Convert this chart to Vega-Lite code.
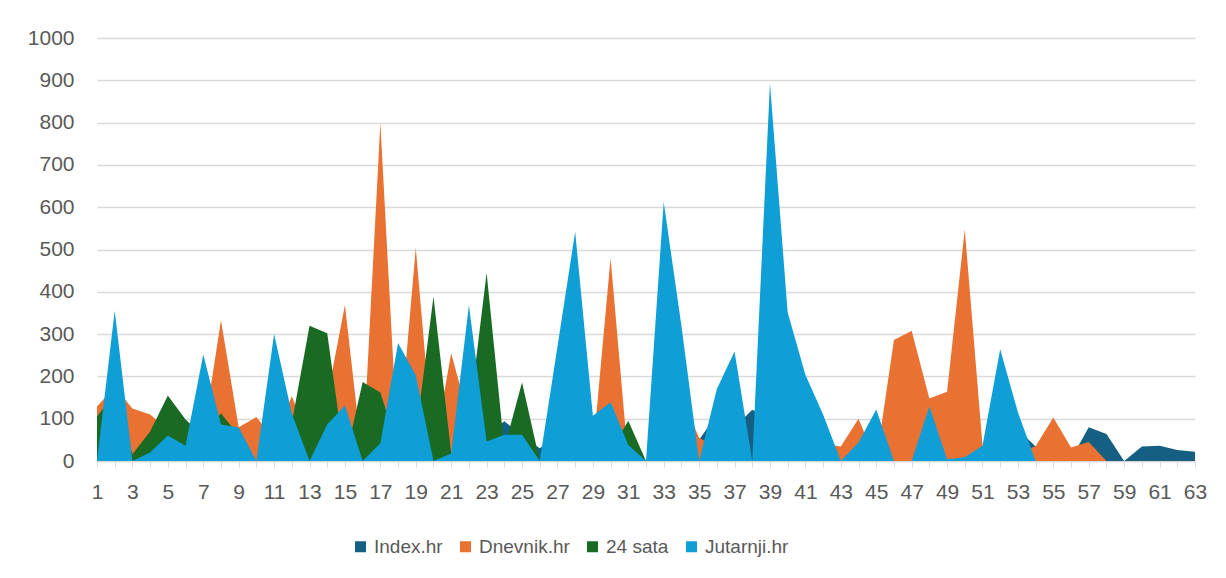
{
  "$schema": "https://vega.github.io/schema/vega-lite/v6.json",
  "width": 1098,
  "height": 423,
  "autosize": "none",
  "padding": {"left": 97, "top": 38, "right": 31, "bottom": 117},
  "background": "white",
  "config": {
    "view": {"stroke": null},
    "font": "Liberation Sans"
  },
  "data": {
    "values": [
      {"n":1,"Index":40,"Dnevnik":129,"Sata":105,"Jutarnji":0},
      {"n":2,"Index":60,"Dnevnik":175,"Sata":160,"Jutarnji":355},
      {"n":3,"Index":50,"Dnevnik":124,"Sata":16,"Jutarnji":0},
      {"n":4,"Index":40,"Dnevnik":110,"Sata":70,"Jutarnji":20},
      {"n":5,"Index":60,"Dnevnik":75,"Sata":155,"Jutarnji":60},
      {"n":6,"Index":50,"Dnevnik":40,"Sata":98,"Jutarnji":36},
      {"n":7,"Index":70,"Dnevnik":60,"Sata":60,"Jutarnji":252},
      {"n":8,"Index":60,"Dnevnik":333,"Sata":113,"Jutarnji":86},
      {"n":9,"Index":50,"Dnevnik":80,"Sata":60,"Jutarnji":79},
      {"n":10,"Index":40,"Dnevnik":104,"Sata":0,"Jutarnji":0},
      {"n":11,"Index":60,"Dnevnik":50,"Sata":40,"Jutarnji":300},
      {"n":12,"Index":60,"Dnevnik":153,"Sata":90,"Jutarnji":112},
      {"n":13,"Index":50,"Dnevnik":50,"Sata":320,"Jutarnji":0},
      {"n":14,"Index":70,"Dnevnik":150,"Sata":302,"Jutarnji":86},
      {"n":15,"Index":60,"Dnevnik":369,"Sata":0,"Jutarnji":131},
      {"n":16,"Index":50,"Dnevnik":0,"Sata":187,"Jutarnji":0},
      {"n":17,"Index":40,"Dnevnik":799,"Sata":162,"Jutarnji":42},
      {"n":18,"Index":80,"Dnevnik":20,"Sata":30,"Jutarnji":279},
      {"n":19,"Index":70,"Dnevnik":504,"Sata":60,"Jutarnji":203},
      {"n":20,"Index":30,"Dnevnik":20,"Sata":389,"Jutarnji":0},
      {"n":21,"Index":10,"Dnevnik":255,"Sata":18,"Jutarnji":18},
      {"n":22,"Index":60,"Dnevnik":100,"Sata":100,"Jutarnji":368},
      {"n":23,"Index":60,"Dnevnik":60,"Sata":445,"Jutarnji":46},
      {"n":24,"Index":94,"Dnevnik":40,"Sata":30,"Jutarnji":62},
      {"n":25,"Index":60,"Dnevnik":30,"Sata":186,"Jutarnji":62},
      {"n":26,"Index":30,"Dnevnik":0,"Sata":0,"Jutarnji":0},
      {"n":27,"Index":60,"Dnevnik":30,"Sata":10,"Jutarnji":270},
      {"n":28,"Index":80,"Dnevnik":40,"Sata":20,"Jutarnji":542},
      {"n":29,"Index":60,"Dnevnik":20,"Sata":20,"Jutarnji":107},
      {"n":30,"Index":60,"Dnevnik":480,"Sata":25,"Jutarnji":139},
      {"n":31,"Index":20,"Dnevnik":0,"Sata":95,"Jutarnji":38},
      {"n":32,"Index":0,"Dnevnik":0,"Sata":0,"Jutarnji":0},
      {"n":33,"Index":40,"Dnevnik":50,"Sata":0,"Jutarnji":612},
      {"n":34,"Index":60,"Dnevnik":150,"Sata":0,"Jutarnji":320},
      {"n":35,"Index":50,"Dnevnik":55,"Sata":0,"Jutarnji":0},
      {"n":36,"Index":110,"Dnevnik":30,"Sata":0,"Jutarnji":170},
      {"n":37,"Index":80,"Dnevnik":20,"Sata":0,"Jutarnji":259},
      {"n":38,"Index":121,"Dnevnik":0,"Sata":0,"Jutarnji":0},
      {"n":39,"Index":100,"Dnevnik":20,"Sata":0,"Jutarnji":893},
      {"n":40,"Index":60,"Dnevnik":20,"Sata":0,"Jutarnji":351},
      {"n":41,"Index":50,"Dnevnik":20,"Sata":0,"Jutarnji":204},
      {"n":42,"Index":40,"Dnevnik":40,"Sata":0,"Jutarnji":110},
      {"n":43,"Index":10,"Dnevnik":34,"Sata":0,"Jutarnji":0},
      {"n":44,"Index":30,"Dnevnik":100,"Sata":0,"Jutarnji":44},
      {"n":45,"Index":40,"Dnevnik":0,"Sata":0,"Jutarnji":122},
      {"n":46,"Index":20,"Dnevnik":286,"Sata":0,"Jutarnji":0},
      {"n":47,"Index":30,"Dnevnik":308,"Sata":0,"Jutarnji":0},
      {"n":48,"Index":40,"Dnevnik":148,"Sata":0,"Jutarnji":129},
      {"n":49,"Index":50,"Dnevnik":164,"Sata":0,"Jutarnji":4},
      {"n":50,"Index":40,"Dnevnik":547,"Sata":0,"Jutarnji":9},
      {"n":51,"Index":20,"Dnevnik":38,"Sata":0,"Jutarnji":36},
      {"n":52,"Index":90,"Dnevnik":20,"Sata":0,"Jutarnji":264},
      {"n":53,"Index":75,"Dnevnik":20,"Sata":0,"Jutarnji":115},
      {"n":54,"Index":34,"Dnevnik":35,"Sata":0,"Jutarnji":0},
      {"n":55,"Index":30,"Dnevnik":103,"Sata":0,"Jutarnji":0},
      {"n":56,"Index":5,"Dnevnik":32,"Sata":0,"Jutarnji":0},
      {"n":57,"Index":80,"Dnevnik":45,"Sata":0,"Jutarnji":0},
      {"n":58,"Index":64,"Dnevnik":0,"Sata":0,"Jutarnji":0},
      {"n":59,"Index":0,"Dnevnik":0,"Sata":0,"Jutarnji":0},
      {"n":60,"Index":34,"Dnevnik":0,"Sata":0,"Jutarnji":0},
      {"n":61,"Index":36,"Dnevnik":0,"Sata":0,"Jutarnji":0},
      {"n":62,"Index":26,"Dnevnik":0,"Sata":0,"Jutarnji":0},
      {"n":63,"Index":22,"Dnevnik":0,"Sata":0,"Jutarnji":0}
    ]
  },
  "encoding": {
    "x": {
      "field": "n",
      "type": "quantitative",
      "scale": {"domain": [1, 63], "nice": false, "zero": false},
      "axis": {
        "title": null,
        "values": [1,2,3,4,5,6,7,8,9,10,11,12,13,14,15,16,17,18,19,20,21,22,23,24,25,26,27,28,29,30,31,32,33,34,35,36,37,38,39,40,41,42,43,44,45,46,47,48,49,50,51,52,53,54,55,56,57,58,59,60,61,62,63],
        "labelExpr": "datum.value % 2 == 1 ? datum.label : ''",
        "grid": false,
        "domainColor": "#d9d9d9",
        "domainWidth": 1.5,
        "tickColor": "#d9d9d9",
        "tickSize": 6,
        "tickWidth": 1,
        "labelPadding": 14,
        "labelFontSize": 21,
        "labelColor": "#595959",
        "labelFont": "Liberation Sans",
        "labelFlush": false,
        "labelOverlap": false
      }
    },
    "color": {
      "scale": {
        "domain": ["Index.hr", "Dnevnik.hr", "24 sata", "Jutarnji.hr"],
        "range": ["#156082", "#E97132", "#196B24", "#0F9ED5"]
      },
      "legend": {
        "title": null,
        "orient": "none",
        "legendX": 254,
        "legendY": 499,
        "direction": "horizontal",
        "symbolType": "square",
        "symbolSize": 121,
        "symbolStrokeWidth": 0,
        "labelFontSize": 19,
        "labelColor": "#595959",
        "labelFont": "Liberation Sans",
        "columnPadding": 13,
        "labelOffset": 4
      }
    }
  },
  "layer": [
    {
      "mark": {"type": "area", "opacity": 1},
      "encoding": {
        "y": {
          "field": "Index",
          "type": "quantitative",
          "scale": {"domain": [0, 1000], "nice": false},
          "axis": {
            "title": null,
            "values": [0,100,200,300,400,500,600,700,800,900,1000],
            "format": "d",
            "domain": false,
            "ticks": false,
            "gridColor": "#d9d9d9",
            "gridWidth": 1.5,
            "labelPadding": 23,
            "labelFontSize": 21,
            "labelColor": "#595959",
            "labelFont": "Liberation Sans"
          }
        },
        "color": {"datum": "Index.hr"}
      }
    },
    {
      "mark": {"type": "area", "opacity": 1},
      "encoding": {
        "y": {"field": "Dnevnik", "type": "quantitative"},
        "color": {"datum": "Dnevnik.hr"}
      }
    },
    {
      "mark": {"type": "area", "opacity": 1},
      "encoding": {
        "y": {"field": "Sata", "type": "quantitative"},
        "color": {"datum": "24 sata"}
      }
    },
    {
      "mark": {"type": "area", "opacity": 1},
      "encoding": {
        "y": {"field": "Jutarnji", "type": "quantitative"},
        "color": {"datum": "Jutarnji.hr"}
      }
    }
  ]
}
